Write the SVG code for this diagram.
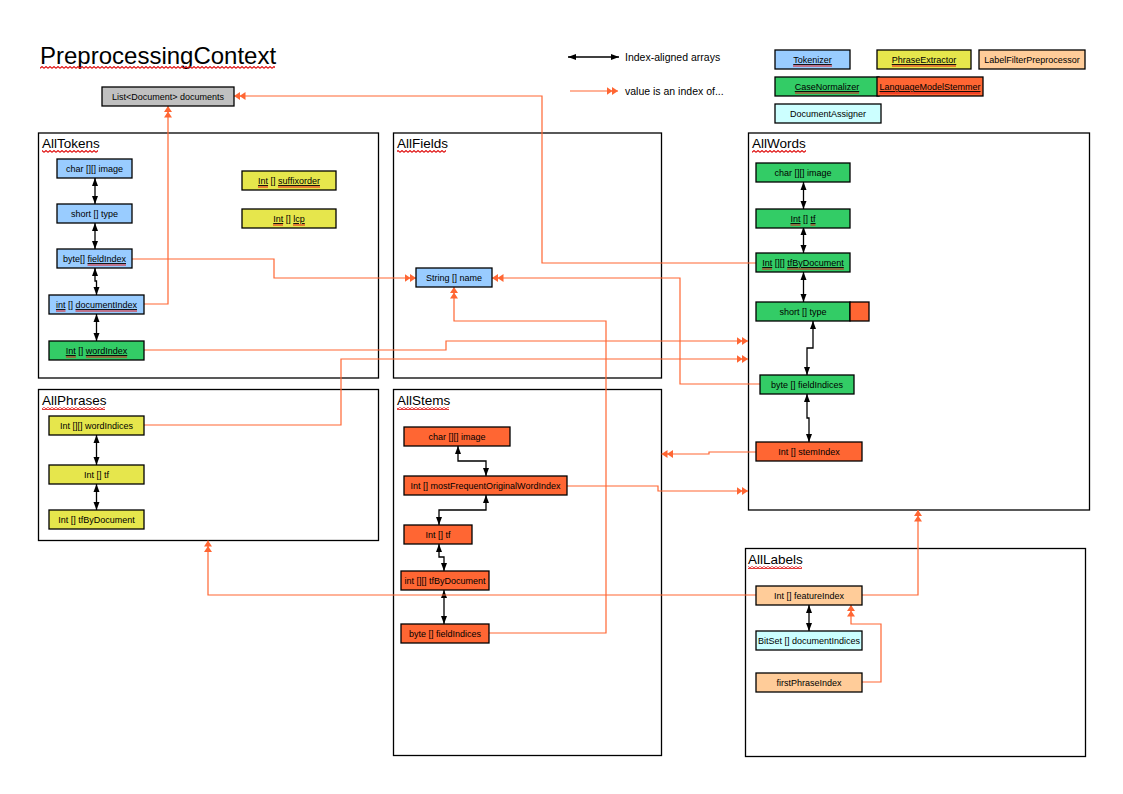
<svg xmlns="http://www.w3.org/2000/svg" width="1123" height="794" viewBox="0 0 1123 794">
  <style>
    text { font-family: "Liberation Sans", Arial, sans-serif; fill: #000; }
    .t { font-size: 9px; text-anchor: middle; }
    .h { font-size: 13.5px; }
    .lg { font-size: 10.5px; }
    .ttl { font-size: 24px; }
    .u { text-decoration: underline; }
    .box { fill: #fff; stroke: #000; stroke-width: 1.3; }
    .n { stroke: #000; stroke-width: 1.3; }
    .blue { fill: #99ccff; }
    .yel { fill: #e6e64c; }
    .grn { fill: #33cc66; }
    .org { fill: #ff6633; }
    .pch { fill: #ffcc99; }
    .cyn { fill: #ccffff; }
    .gry { fill: #c0c0c0; }
    .o { fill: none; stroke: #ff6633; stroke-width: 1.2; marker-end: url(#dh); }
    .k { fill: none; stroke: #000; stroke-width: 1.3; marker-start: url(#ka); marker-end: url(#ka); }
    .wv { fill: url(#wave); }
    .rl { stroke: #e01818; stroke-width: 1; }
  </style>
  <defs>
    <!-- double orange head: "value is an index of" -->
    <marker id="dh" viewBox="0 0 12 9" refX="11.5" refY="4.5" markerWidth="12" markerHeight="9" markerUnits="userSpaceOnUse" orient="auto">
      <path d="M0,0.5 L6,4.5 L0,8.5 Z M5.5,0.5 L11.5,4.5 L5.5,8.5 Z" fill="#ff6633"/>
    </marker>
    <!-- black head for index-aligned arrays -->
    <marker id="ka" viewBox="0 0 8 6" refX="8" refY="3" markerWidth="8" markerHeight="6.5" markerUnits="userSpaceOnUse" orient="auto-start-reverse">
      <path d="M0,0 L8,3 L0,6 Z" fill="#000"/>
    </marker>
    <!-- wavy red proofing underline -->
    <pattern id="wave" width="4" height="3" patternUnits="userSpaceOnUse">
      <path d="M0,2.4 L2,0.6 L4,2.4" fill="none" stroke="#e01010" stroke-width="1.2"/>
    </pattern>
  </defs>

  <rect width="1123" height="794" fill="#fff"/>

  <text class="ttl" x="40" y="64">PreprocessingContext</text>

  <!-- legend -->
  <g id="legend">
    <path class="k" d="M568,57 H619"/>
    <text class="lg" x="625" y="61">Index-aligned arrays</text>
    <path class="o" d="M570,91 H618"/>
    <text class="lg" x="625" y="95">value is an index of...</text>
  </g>
  <g id="legend-tokenizer"><rect class="n blue" x="775" y="50" width="75" height="19"/><text class="t" x="812.5" y="63"><tspan class="u">Tokenizer</tspan></text></g>
  <g id="legend-phrase-extractor"><rect class="n yel" x="877" y="50" width="94" height="19"/><text class="t" x="924" y="63"><tspan class="u">PhraseExtractor</tspan></text></g>
  <g id="legend-label-filter"><rect class="n pch" x="979" y="50" width="106" height="19"/><text class="t" x="1032" y="63">LabelFilterPreprocessor</text></g>
  <g id="legend-case-normalizer"><rect class="n grn" x="775" y="77" width="104" height="19"/><text class="t" x="827" y="90"><tspan class="u">CaseNormalizer</tspan></text></g>
  <g id="legend-stemmer"><rect class="n org" x="877" y="77" width="106" height="19"/><text class="t" x="930" y="90"><tspan class="u">LanguageModelStemmer</tspan></text></g>
  <g id="legend-document-assigner"><rect class="n cyn" x="775" y="104" width="106" height="19"/><text class="t" x="828" y="117">DocumentAssigner</text></g>

  <!-- containers -->
  <g id="all-tokens"><rect class="box" x="38.5" y="133" width="340" height="245"/><text class="h" x="42" y="148">AllTokens</text></g>
  <g id="all-fields"><rect class="box" x="393.5" y="133" width="268" height="245"/><text class="h" x="397" y="148">AllFields</text></g>
  <g id="all-words"><rect class="box" x="748.5" y="133" width="341" height="377"/><text class="h" x="752" y="148">AllWords</text></g>
  <g id="all-phrases"><rect class="box" x="38.5" y="389.5" width="340" height="151"/><text class="h" x="42" y="405">AllPhrases</text></g>
  <g id="all-stems"><rect class="box" x="393.5" y="389.5" width="268" height="366"/><text class="h" x="397" y="405">AllStems</text></g>
  <g id="all-labels"><rect class="box" x="745.5" y="548.5" width="340" height="208"/><text class="h" x="748" y="564">AllLabels</text></g>

  <!-- connectors -->
  <g id="connectors">
    <!-- index-aligned -->
    <path class="k" d="M95,178 V204"/>
    <path class="k" d="M95,223 V249"/>
    <path class="k" d="M95,268 V281 H96.5 V295"/>
    <path class="k" d="M96.5,314 V341"/>
    <path class="k" d="M803.5,182 V209"/>
    <path class="k" d="M803.5,227 V253"/>
    <path class="k" d="M803.5,272 V302"/>
    <path class="k" d="M813,321 V348 H807 V375"/>
    <path class="k" d="M807,394 V418 H809 V442"/>
    <path class="k" d="M96.5,435 V465"/>
    <path class="k" d="M96.5,484 V510"/>
    <path class="k" d="M458,446 V461 H486 V476"/>
    <path class="k" d="M486,495 V510 H439 V525"/>
    <path class="k" d="M439,544 V557 H444 V571"/>
    <path class="k" d="M444,590 V624"/>
    <path class="k" d="M809,605 V631"/>
    <!-- value is an index of -->
    <path class="o" d="M132,259 H274 V278 H416"/>
    <path class="o" d="M144,304 H168 V106"/>
    <path class="o" d="M144,350 H446 V341 H748"/>
    <path class="o" d="M144,425 H341 V359 H748"/>
    <path class="o" d="M756,263 H542 V96 H234"/>
    <path class="o" d="M760,384 H680 V278 H492"/>
    <path class="o" d="M488,633 H606 V321 H454 V287"/>
    <path class="o" d="M756,452 H709 V454 H661.5"/>
    <path class="o" d="M567,486 H658 V491 H748"/>
    <path class="o" d="M862,595 H918 V510"/>
    <path class="o" d="M756,595 H208 V540.5"/>
    <path class="o" d="M862,682 H881 V624 H851 V605"/>
  </g>

  <!-- documents list -->
  <g id="documents"><rect class="n gry" x="102" y="87" width="132" height="19"/><text class="t" x="168" y="100">List&lt;Document&gt; documents</text></g>

  <!-- AllTokens -->
  <g id="tok-image"><rect class="n blue" x="57" y="159" width="75" height="19"/><text class="t" x="94.5" y="172">char [][] image</text></g>
  <g id="tok-type"><rect class="n blue" x="57" y="204" width="75" height="19"/><text class="t" x="94.5" y="217">short [] type</text></g>
  <g id="tok-field-index"><rect class="n blue" x="57" y="249" width="75" height="19"/><text class="t" x="94.5" y="262">byte[] <tspan class="u">fieldIndex</tspan></text></g>
  <g id="tok-document-index"><rect class="n blue" x="49" y="295" width="95" height="19"/><text class="t" x="96.5" y="308"><tspan class="u">int</tspan> [] <tspan class="u">documentIndex</tspan></text></g>
  <g id="tok-word-index"><rect class="n grn" x="49" y="341" width="95" height="19"/><text class="t" x="96.5" y="354"><tspan class="u">Int</tspan> [] <tspan class="u">wordIndex</tspan></text></g>
  <g id="tok-suffix-order"><rect class="n yel" x="242" y="171" width="94" height="19"/><text class="t" x="289" y="184"><tspan class="u">Int</tspan> [] <tspan class="u">suffixorder</tspan></text></g>
  <g id="tok-lcp"><rect class="n yel" x="242" y="209" width="94" height="19"/><text class="t" x="289" y="222"><tspan class="u">Int</tspan> [] <tspan class="u">lcp</tspan></text></g>

  <!-- AllFields -->
  <g id="field-name"><rect class="n blue" x="416" y="268" width="76" height="19"/><text class="t" x="454" y="281">String [] name</text></g>

  <!-- AllWords -->
  <g id="word-image"><rect class="n grn" x="756" y="163" width="94" height="19"/><text class="t" x="803" y="176">char [][] image</text></g>
  <g id="word-tf"><rect class="n grn" x="756" y="209" width="94" height="19"/><text class="t" x="803" y="222"><tspan class="u">Int</tspan> [] <tspan class="u">tf</tspan></text></g>
  <g id="word-tf-by-document"><rect class="n grn" x="756" y="253" width="94" height="19"/><text class="t" x="803" y="266"><tspan class="u">Int</tspan> [][] <tspan class="u">tfByDocument</tspan></text></g>
  <g id="word-type"><rect class="n grn" x="756" y="302" width="94" height="19"/><rect class="n org" x="850" y="302" width="19" height="19"/><text class="t" x="803" y="315">short [] type</text></g>
  <g id="word-field-indices"><rect class="n grn" x="760" y="375" width="94" height="19"/><text class="t" x="807" y="388">byte [] fieldIndices</text></g>
  <g id="word-stem-index"><rect class="n org" x="756" y="442" width="106" height="19"/><text class="t" x="809" y="455">Int [] stemIndex</text></g>

  <!-- AllPhrases -->
  <g id="phrase-word-indices"><rect class="n yel" x="49" y="416" width="95" height="19"/><text class="t" x="96.5" y="429">Int [][] wordIndices</text></g>
  <g id="phrase-tf"><rect class="n yel" x="49" y="465" width="95" height="19"/><text class="t" x="96.5" y="478">Int [] tf</text></g>
  <g id="phrase-tf-by-document"><rect class="n yel" x="49" y="510" width="95" height="19"/><text class="t" x="96.5" y="523">Int [] tfByDocument</text></g>

  <!-- AllStems -->
  <g id="stem-image"><rect class="n org" x="404" y="427" width="106" height="19"/><text class="t" x="457" y="440">char [][] image</text></g>
  <g id="stem-most-frequent"><rect class="n org" x="404" y="476" width="163" height="19"/><text class="t" x="485.5" y="489">Int [] mostFrequentOriginalWordIndex</text></g>
  <g id="stem-tf"><rect class="n org" x="404" y="525" width="68" height="19"/><text class="t" x="438" y="538">Int [] tf</text></g>
  <g id="stem-tf-by-document"><rect class="n org" x="401" y="571" width="88" height="19"/><text class="t" x="445" y="584">int [][] tfByDocument</text></g>
  <g id="stem-field-indices"><rect class="n org" x="401" y="624" width="88" height="19"/><text class="t" x="445" y="637">byte [] fieldIndices</text></g>

  <!-- AllLabels -->
  <g id="label-feature-index"><rect class="n pch" x="756" y="586" width="106" height="19"/><text class="t" x="809" y="599">Int [] featureIndex</text></g>
  <g id="label-document-indices"><rect class="n cyn" x="756" y="631" width="106" height="19"/><text class="t" x="809" y="644">BitSet [] documentIndices</text></g>
  <g id="label-first-phrase-index"><rect class="n pch" x="756" y="673" width="106" height="19"/><text class="t" x="809" y="686">firstPhraseIndex</text></g>

  <!-- red proofing marks under unknown words -->
  <g id="proofing-marks">
    <rect class="wv" x="40" y="66" width="235" height="3"/>
    <rect class="wv" x="42" y="150" width="56" height="3"/>
    <rect class="wv" x="397" y="150" width="49" height="3"/>
    <rect class="wv" x="752" y="150" width="54" height="3"/>
    <rect class="wv" x="42" y="407" width="63" height="3"/>
    <rect class="wv" x="397" y="407" width="52" height="3"/>
    <rect class="wv" x="748" y="566" width="54" height="3"/>
    <path class="rl" d="M793,66 H832 M892,66 H956 M795,93 H859 M880,93 H980
      M87.5,265 H126 M56,311 H65.5 M75.5,311 H137 M66,357 H76 M86,357 H127
      M258,187 H268 M278,187 H320 M273,225 H283 M293,225 H305
      M790.5,225 H800.5 M810.5,225 H815.5 M762,269 H772 M787,269 H844"/>
  </g>
</svg>
